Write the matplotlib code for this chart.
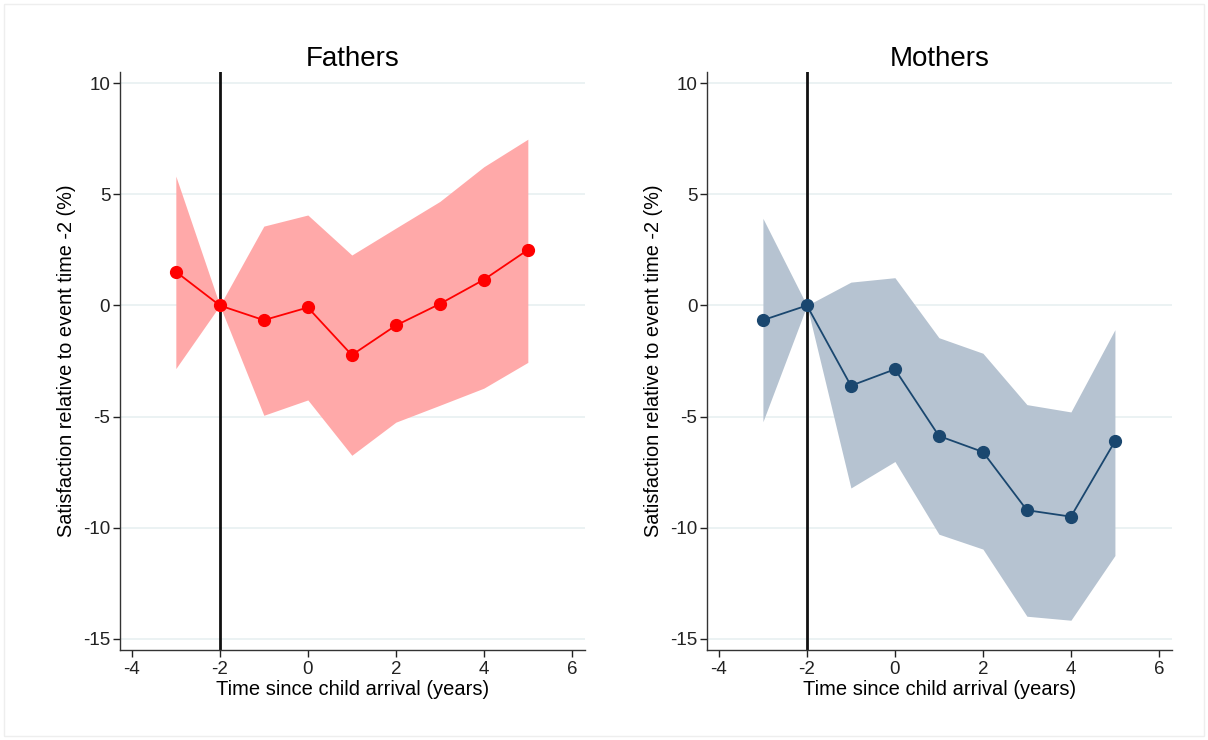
import numpy as np
import matplotlib
matplotlib.use('Agg')
import matplotlib.pyplot as plt

plt.rcParams['font.family'] = ['Liberation Sans', 'DejaVu Sans']

# event time (years since child arrival)
years = [-3, -2, -1, 0, 1, 2, 3, 4, 5]

fathers_est = [1.52, 0.0, -0.66, -0.09, -2.23, -0.90, 0.07, 1.16, 2.50]
fathers_hi = [5.82, 0.0, 3.57, 4.07, 2.27, 3.48, 4.68, 6.24, 7.48]
fathers_lo = [-2.84, 0.0, -4.94, -4.25, -6.74, -5.25, -4.49, -3.72, -2.56]

mothers_est = [-0.66, 0.0, -3.61, -2.87, -5.87, -6.59, -9.21, -9.50, -6.11]
mothers_hi = [3.92, 0.0, 1.05, 1.25, -1.45, -2.15, -4.46, -4.79, -1.09]
mothers_lo = [-5.23, 0.0, -8.21, -7.02, -10.29, -10.96, -13.98, -14.16, -11.25]

x_ticks = [-4, -2, 0, 2, 4, 6]
y_ticks = [10, 5, 0, -5, -10, -15]

panels = [
    ('Fathers', fathers_est, fathers_lo, fathers_hi, '#ff0000', '#ffa9a9'),
    ('Mothers', mothers_est, mothers_lo, mothers_hi, '#1a476f', '#b6c3d1'),
]

fig = plt.figure(figsize=(12.08, 7.4), dpi=100)
fig.patch.set_facecolor('white')
boxes = [[0.0993, 0.1216, 0.385, 0.781], [0.5853, 0.1216, 0.385, 0.781]]

for box, (title, est, lo, hi, col, fill) in zip(boxes, panels):
    ax = fig.add_axes(box)
    for yt in y_ticks:
        ax.axhline(yt, color='#e8f0f1', lw=1.2, zorder=0)
    ax.fill_between(years, lo, hi, color=fill, lw=0, zorder=1)
    ax.axvline(-2, color='#111111', lw=2, zorder=2)
    ax.plot(years, est, color=col, lw=1.3, marker='o', ms=8.5, zorder=3)
    ax.set_xlim(-4.27, 6.3)
    ax.set_ylim(-15.5, 10.5)
    ax.set_xticks(x_ticks)
    ax.set_yticks(y_ticks)
    ax.set_xticklabels([str(t) for t in x_ticks])
    ax.set_yticklabels([str(t) for t in y_ticks])
    ax.tick_params(labelsize=13.5, colors='#222222', length=5, width=1, pad=2)
    ax.tick_params(axis='x', pad=3)
    for s in ['top', 'right']:
        ax.spines[s].set_visible(False)
    for s in ['left', 'bottom']:
        ax.spines[s].set_color('#333333')
        ax.spines[s].set_linewidth(1)
    ax.set_title(title, fontsize=20, pad=2)
    ax.set_xlabel('Time since child arrival (years)', fontsize=14.5, labelpad=1)
    ax.set_ylabel('Satisfaction relative to event time -2 (%)', fontsize=14.3, labelpad=5)

fig.add_artist(plt.Rectangle((0.003, 0.005), 0.994, 0.99, transform=fig.transFigure,
                             fill=False, edgecolor='#eeeeee', lw=1))

fig.savefig('out.png', dpi=100)
